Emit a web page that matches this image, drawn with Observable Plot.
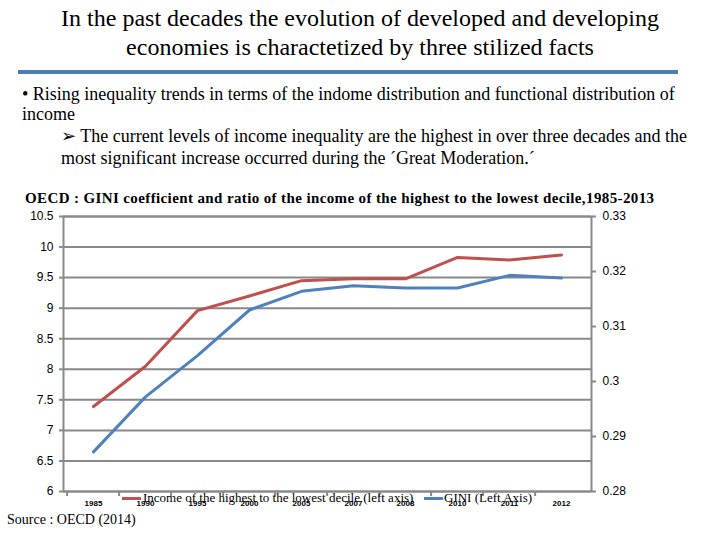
<!DOCTYPE html>
<html>
<head>
<meta charset="utf-8">
<script src="https://cdn.jsdelivr.net/npm/d3@7"></script>
<script src="https://cdn.jsdelivr.net/npm/@observablehq/plot@0.6"></script>
<style>
  html, body { margin: 0; padding: 0; background: #fff; }
  #page { position: relative; width: 720px; height: 540px; overflow: hidden; font-family: "Liberation Serif", "DejaVu Serif", serif; color: #000; }
  .abs { position: absolute; white-space: nowrap; font-family: "Liberation Serif", "DejaVu Serif", serif; }
  #title { top: 4px; left: 0; width: 720px; text-align: center; font-size: 24px; line-height: 29px; }
  #rule { top: 70px; left: 18px; width: 660px; height: 4px; background: #4f7db8; }
  .b { font-size: 18px; line-height: 21px; }
  #ctitle { top: 190px; left: 25px; font-size: 15px; font-weight: bold; letter-spacing: 0.38px; }
  #chart { position: absolute; top: 206px; left: 0; }
  .leg { font-size: 13px; }
  .sw { position: absolute; height: 3px; width: 19px; }
  #source { top: 512px; left: 7px; font-size: 14px; }
</style>
</head>
<body>
<div id="page">
  <div id="title" class="abs">In the past decades the evolution of developed and developing<br>economies is charactetized by three stilized facts</div>
  <div id="rule" class="abs"></div>
  <div class="abs b" style="top:84px;left:22px;">• Rising inequality trends in terms of the indome distribution and functional distribution of</div>
  <div class="abs b" style="top:104px;left:22px;">income</div>
  <div class="abs b" style="top:126px;left:61px;">&#10146; The current levels of income inequality are the highest in over three decades and the</div>
  <div class="abs b" style="top:148px;left:61px;">most significant increase occurred during the ´Great Moderation.´</div>
  <div id="ctitle" class="abs">OECD : GINI coefficient and ratio of the income of the highest to the lowest decile,1985-2013</div>
  <div id="chart"></div>
  <div class="sw" style="left:122px;top:497px;background:#c0504d;"></div>
  <div class="abs leg" style="left:143px;top:490px;">Income of the highest to the lowest decile (left axis)</div>
  <div class="sw" style="left:424px;top:497px;background:#4f81bd;"></div>
  <div class="abs leg" style="left:444px;top:490px;">GINI (Left Axis)</div>
  <div id="source" class="abs">Source : OECD (2014)</div>
</div>
<script>
const years = ["1985","1990","1995","2000","2005","2007","2008","2010","2011","2012"];
const ratioValues = [7.39, 8.05, 8.96, 9.20, 9.45, 9.48, 9.48, 9.83, 9.79, 9.87];
const giniValues = [0.2872, 0.2972, 0.3047, 0.3130, 0.3164, 0.3174, 0.3170, 0.3170, 0.3193, 0.3188];
const leftTicks = [6, 6.5, 7, 7.5, 8, 8.5, 9, 9.5, 10, 10.5];
const rightTicks = [0.28, 0.29, 0.30, 0.31, 0.32, 0.33];
const leftDomain = [6, 10.5];
const rightDomain = [0.28, 0.33];

const toLeft = d3.scaleLinear(rightDomain, leftDomain);
const ratioData = years.map((y, i) => ({year: y, value: ratioValues[i]}));
const giniData = years.map((y, i) => ({year: y, value: giniValues[i]}));

const gridColor = "#898989";
const chart = Plot.plot({
  width: 720,
  height: 334,
  marginTop: 10,
  marginBottom: 49,
  marginLeft: 63,
  marginRight: 129,
  style: {fontFamily: "'Liberation Sans Narrow', 'Liberation Sans', Arial, sans-serif", fontSize: "12px", color: "#000", background: "transparent"},
  x: {type: "point", domain: years, padding: 0.5},
  y: {domain: leftDomain},
  marks: [
    Plot.gridY(leftTicks, {stroke: gridColor, strokeOpacity: 1, strokeWidth: 2}),
    Plot.frame({stroke: gridColor, strokeWidth: 2}),
    Plot.axisY({ticks: leftTicks, tickSize: 4, tickPadding: 6, stroke: gridColor, strokeWidth: 2, tickFormat: d => String(d), label: null, fontSize: 12}),
    Plot.axisY({anchor: "right", ticks: rightTicks.map(toLeft), tickSize: 4, tickPadding: 7, stroke: gridColor, strokeWidth: 2, tickFormat: d => String(+toLeft.invert(d).toFixed(2)), label: null, fontSize: 12}),
    Plot.axisX({ticks: years, tickSize: 5, tickFormat: () => "", dx: -26.4, stroke: gridColor, strokeWidth: 2, label: null}),
    Plot.axisX({ticks: years, tickSize: 0, tickPadding: 9, fontSize: 8, fontWeight: "bold", label: null, fontFamily: "'Liberation Sans', Arial, sans-serif"}),
    Plot.line(ratioData, {x: "year", y: "value", stroke: "#c0504d", strokeWidth: 3}),
    Plot.line(giniData, {x: "year", y: d => toLeft(d.value), stroke: "#4f81bd", strokeWidth: 3})
  ]
});
document.getElementById("chart").appendChild(chart);
</script>
</body>
</html>
